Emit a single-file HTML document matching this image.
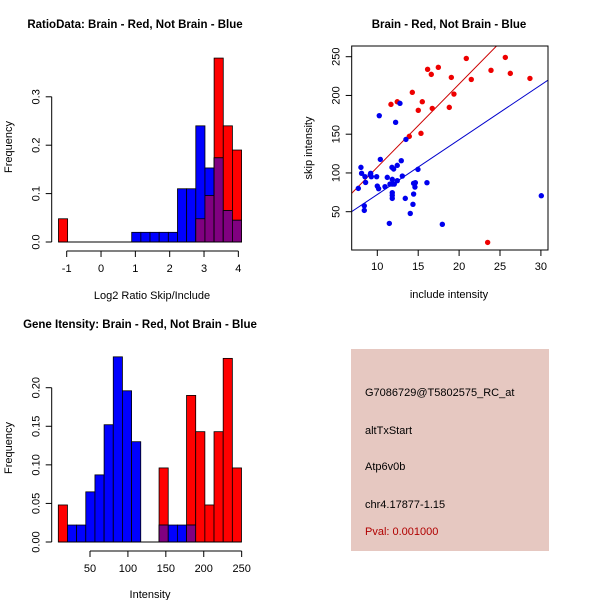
<!DOCTYPE html>
<html><head><meta charset="utf-8"><style>
html,body{margin:0;padding:0;background:#fff;}
svg{display:block;font-family:"Liberation Sans",sans-serif;}
</style></head><body>
<svg id="fig" width="600" height="600" viewBox="0 0 600 600">
<rect width="600" height="600" fill="#fff"/>
<g id="p1"></g>
<g id="p2"></g>
<g id="p3"></g>
<g>
<rect x="351" y="349" width="198" height="202" fill="#e6c8c1"/>
<text x="365" y="396" font-size="11" fill="#000">G7086729@T5802575_RC_at</text>
<text x="365" y="434" font-size="11" fill="#000">altTxStart</text>
<text x="365" y="470" font-size="11" fill="#000">Atp6v0b</text>
<text x="365" y="508" font-size="11" fill="#000">chr4.17877-1.15</text>
<text x="365" y="535" font-size="11" fill="#b00000">Pval: 0.001000</text>
</g>
</svg>
<script>
// Panel 1 data
const ratioBreakStart = -1.24;
const ratioBinWidth = 0.2667;
const ratioRed = [0.048,0,0,0,0,0,0,0,0,0,0,0,0,0,0,0.048,0.096,0.38,0.24,0.19];
const ratioBlue = [0,0,0,0,0,0,0,0,0.02,0.02,0.02,0.02,0.02,0.11,0.11,0.24,0.153,0.174,0.065,0.045];
const ratioXTicks = [-1,0,1,2,3,4];
const ratioYTicks = [0,0.1,0.2,0.3];
const ratioYLabels = ["0.0","0.1","0.2","0.3"];
// Panel 2 data
const redX = [11.67,12.44,14.28,15.01,15.50,15.34,13.91,16.72,16.15,16.60,17.46,18.80,19.05,19.37,20.88,21.49,23.90,25.65,26.26,28.66,23.49];
const redY = [188.5,191.9,204,180.8,191.9,151.1,147.2,183.3,233.7,227.2,236.3,184.6,223.3,201.8,247.8,220.7,232.4,249.1,228.5,222.0,10.4];
const blueX = [7.68,8.00,8.08,8.49,8.57,8.41,8.41,9.19,9.14,9.27,9.92,10.0,10.16,10.24,10.37,10.94,11.22,11.47,11.55,11.79,11.83,11.83,11.83,11.83,11.83,12.0,12.08,12.24,12.44,12.44,12.77,12.93,13.06,13.42,13.50,14.03,14.36,14.44,14.44,14.60,14.65,14.97,16.07,17.95,30.05];
const blueY = [80.1,107.2,99.5,95.2,87.8,57.7,51.7,99.5,97.7,95.2,95.2,83.1,79.7,173.9,117.5,82.3,94.3,34.9,85.7,107.2,91.7,85.7,74.5,71.1,67.2,105.1,85.7,165.3,109.8,90.0,189.8,115.8,96.0,67.2,143.3,47.8,59.5,72.8,86.6,81.8,87.4,104.6,87.4,33.7,70.6];
const redFit = [0.1,10.73];
const blueFit = [1.5,7.07];
const scXTicks = [10,15,20,25,30];
const scYTicks = [50,100,150,200,250];
// Panel 3 data
const intBreakStart = 8.2;
const intBinWidth = 12.08;
const intRed = [0.048,0,0,0,0,0,0,0,0,0,0,0.096,0,0,0.19,0.143,0.048,0.143,0.238,0.096];
const intBlue = [0,0.022,0.022,0.065,0.087,0.152,0.24,0.196,0.13,0,0,0.022,0.022,0.022,0.022,0,0,0,0,0];
const intXTicks = [50,100,150,200,250];
const intYTicks = [0,0.05,0.1,0.15,0.2];
const intYLabels = ["0.00","0.05","0.10","0.15","0.20"];

const NS="http://www.w3.org/2000/svg";
function mk(parent,tag,attrs,text){const e=document.createElementNS(NS,tag);for(const k in attrs)e.setAttribute(k,attrs[k]);if(text!==undefined)e.textContent=text;parent.appendChild(e);return e;}

function hist(g,sx,sy,start,w,red,blue,xt,xl,yt,yl,axY,axX){
  const n=red.length;
  for(let i=0;i<n;i++){
    const x0=sx(start+i*w),x1=sx(start+(i+1)*w);
    if(red[i]>0){const r=mk(g,'rect',{x:x0,y:sy(red[i]),width:x1-x0,height:sy(0)-sy(red[i]),fill:'#ff0000',stroke:'#000','stroke-width':0.8});
      
      }
    if(blue[i]>0){const b=mk(g,'rect',{x:x0,y:sy(blue[i]),width:x1-x0,height:sy(0)-sy(blue[i]),fill:'#0000ff',stroke:'#000','stroke-width':0.8});
      
      }
    if(red[i]>0&&blue[i]>0){const m=Math.min(red[i],blue[i]);const p=mk(g,'rect',{x:x0,y:sy(m),width:x1-x0,height:sy(0)-sy(m),fill:'#800080',stroke:'#000','stroke-width':0.8});
      
      }
  }
  const by=sy(0);
  mk(g,'line',{x1:sx(start),x2:sx(start+n*w),y1:by,y2:by,stroke:'#000','stroke-width':1});
  const ya=mk(g,'g',{});
  
  
  mk(ya,'line',{x1:axX,x2:axX,y1:sy(yt[0]),y2:sy(yt[yt.length-1]),stroke:'#000'});
  yt.forEach((v,i)=>{const y=sy(v);mk(ya,'line',{x1:axX,x2:axX-6,y1:y,y2:y,stroke:'#000'});
    const t=mk(ya,'text',{x:axX-12,y:y,'font-size':11,'text-anchor':'middle',transform:`rotate(-90 ${axX-12} ${y})`},yl[i]);
    
    });
  const xa=mk(g,'g',{});
  
  
  mk(xa,'line',{x1:sx(xt[0]),x2:sx(xt[xt.length-1]),y1:axY,y2:axY,stroke:'#000'});
  xt.forEach((v,i)=>{const x=sx(v);mk(xa,'line',{x1:x,x2:x,y1:axY,y2:axY+6,stroke:'#000'});
    const t=mk(xa,'text',{x:x,y:axY+21,'font-size':11,'text-anchor':'middle'},xl[i]);
    
    });
}

// Panel 1
(function(){
  const g=document.getElementById('p1');
  const sx=v=>66.7+(v+1)*34.33, sy=f=>242-f*484;
  hist(g,sx,sy,ratioBreakStart,ratioBinWidth,ratioRed,ratioBlue,ratioXTicks,ratioXTicks.map(String),ratioYTicks,ratioYLabels,251,51.7);
  const t=mk(g,'text',{x:135,y:28,'font-size':11.5,'font-weight':'bold','text-anchor':'middle'},'RatioData: Brain - Red, Not Brain - Blue');
  
  
  const xl=mk(g,'text',{x:152,y:299,'font-size':11,'text-anchor':'middle'},'Log2 Ratio Skip/Include');
  
  
  const yl=mk(g,'text',{x:12,y:147,'font-size':11,'text-anchor':'middle',transform:'rotate(-90 12 147)'},'Frequency');
  
  
})();

// Panel 2
(function(){
  const g=document.getElementById('p2');
  const sx=v=>377.3+(v-10)*8.18, sy=v=>211.7-(v-50)*0.775;
  const L=351.7,R=548,T=46,B=250;
  const cp=mk(g,'clipPath',{id:'clip2'});mk(cp,'rect',{x:L,y:T,width:R-L,height:B-T});
  const x0=(L-377.3)/8.18+10, x1=(R-377.3)/8.18+10;
  const gl=mk(g,'g',{'clip-path':'url(#clip2)'});
  const rl=mk(gl,'line',{x1:sx(x0),y1:sy(redFit[0]+redFit[1]*x0),x2:sx(x1),y2:sy(redFit[0]+redFit[1]*x1),stroke:'#cc0000','stroke-width':1});
  
  
  const bl=mk(gl,'line',{x1:sx(x0),y1:sy(blueFit[0]+blueFit[1]*x0),x2:sx(x1),y2:sy(blueFit[0]+blueFit[1]*x1),stroke:'#0000cc','stroke-width':1});
  
  
  redX.forEach((x,i)=>{const c=mk(gl,'circle',{cx:sx(x),cy:sy(redY[i]),r:2.7,fill:'#ee0000'});
    
    });
  blueX.forEach((x,i)=>{const c=mk(gl,'circle',{cx:sx(x),cy:sy(blueY[i]),r:2.7,fill:'#0000ee'});
    
    });
  mk(g,'rect',{x:L,y:T,width:R-L,height:B-T,fill:'none',stroke:'#000'});
  scXTicks.forEach(v=>{const x=sx(v);mk(g,'line',{x1:x,x2:x,y1:B,y2:B+6,stroke:'#000'});
    const t=mk(g,'text',{x:x,y:B+20,'font-size':11,'text-anchor':'middle'},String(v));
    
    });
  scYTicks.forEach(v=>{const y=sy(v);mk(g,'line',{x1:L,x2:L-6,y1:y,y2:y,stroke:'#000'});
    const t=mk(g,'text',{x:L-12,y:y,'font-size':11,'text-anchor':'middle',transform:`rotate(-90 ${L-12} ${y})`},String(v));
    
    });
  const t=mk(g,'text',{x:449,y:28,'font-size':11.5,'font-weight':'bold','text-anchor':'middle'},'Brain - Red, Not Brain - Blue');
  
  
  const xl=mk(g,'text',{x:449,y:298,'font-size':11,'text-anchor':'middle'},'include intensity');
  
  
  const yl=mk(g,'text',{x:312,y:148,'font-size':11,'text-anchor':'middle',transform:'rotate(-90 312 148)'},'skip intensity');
  
  
})();

// Panel 3
(function(){
  const g=document.getElementById('p3');
  const sx=v=>90+(v-50)*0.7583, sy=f=>542-f*771.5;
  hist(g,sx,sy,intBreakStart,intBinWidth,intRed,intBlue,intXTicks,intXTicks.map(String),intYTicks,intYLabels,551,51.7);
  const t=mk(g,'text',{x:140,y:328,'font-size':11.5,'font-weight':'bold','text-anchor':'middle'},'Gene Itensity: Brain - Red, Not Brain - Blue');
  
  
  const xl=mk(g,'text',{x:150,y:598,'font-size':11,'text-anchor':'middle'},'Intensity');
  
  
  const yl=mk(g,'text',{x:12,y:448,'font-size':11,'text-anchor':'middle',transform:'rotate(-90 12 448)'},'Frequency');
  
  
})();
</script>
</body></html>
